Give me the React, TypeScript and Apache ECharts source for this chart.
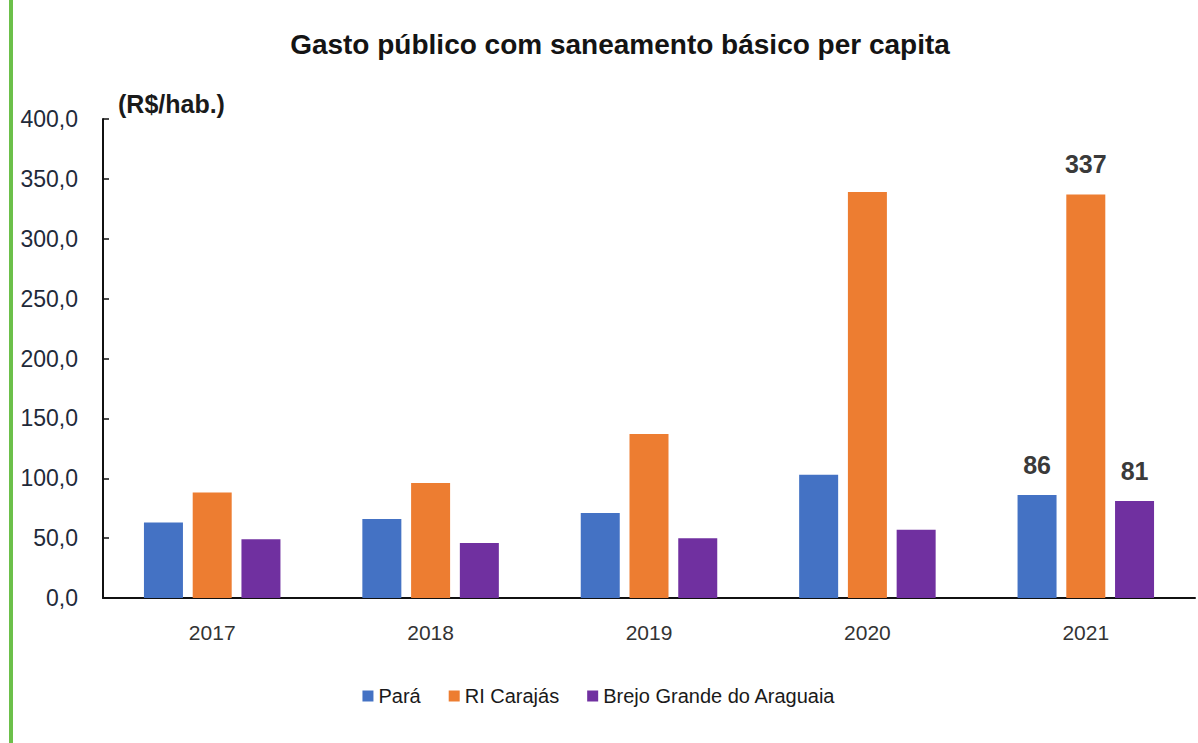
import React, { useEffect, useRef } from "react";
import * as echarts from "echarts";

const titleText = "Gasto público com saneamento básico per capita";
const unitText = "(R$/hab.)";
const years = ["2017", "2018", "2019", "2020", "2021"];
const seriesNames = ["Pará", "RI Carajás", "Brejo Grande do Araguaia"];
const para = [63, 66, 71, 103, 86];
const riCarajas = [88, 96, 137, 339, 337];
const brejoGrande = [49, 46, 50, 57, 81];
const labeledIndex = 4;
const colors = ["#4472C4", "#ED7D31", "#7030A0"];

const FONT = "'Liberation Sans', Arial, sans-serif";

export default function App() {
  const ref = useRef<HTMLDivElement>(null);
  useEffect(() => {
    if (!ref.current) return;
    const chart = echarts.init(ref.current, null, { renderer: "svg" });
    const allData = [para, riCarajas, brejoGrande];
    const series = allData.map((arr, si) => ({
      name: seriesNames[si],
      type: "bar",
      barWidth: 39,
      barGap: "25%",
      itemStyle: { color: colors[si] },
      label: {
        show: false,
        position: "top",
        distance: 18,
        fontFamily: FONT,
        fontSize: 25,
        fontWeight: "bold",
        color: "#3a3a3a",
        formatter: (p: any) => String(Math.round(p.value)),
      },
      data: arr.map((v, i) => (i === labeledIndex ? { value: v, label: { show: true } } : v)),
    }));
    chart.setOption({
      animation: false,
      backgroundColor: "#ffffff",
      textStyle: { fontFamily: FONT },
      title: {
        text: titleText,
        left: 615,
        textAlign: "center",
        top: 25,
        textStyle: { fontFamily: FONT, fontSize: 28, fontWeight: "bold", color: "#141414" },
      },
      legend: {
        data: seriesNames,
        bottom: 32,
        left: "center",
        icon: "rect",
        itemWidth: 11,
        itemHeight: 11,
        itemGap: 28,
        textStyle: { fontFamily: FONT, fontSize: 20, color: "#1a1a1a" },
      },
      grid: { left: 103, right: 3, top: 119, bottom: 145 },
      xAxis: {
        type: "category",
        data: years,
        axisLine: { lineStyle: { color: "#111", width: 2 } },
        axisTick: { inside: true, length: 6, lineStyle: { color: "#111", width: 2 } },
        axisLabel: { fontFamily: FONT, fontSize: 21, color: "#333", margin: 24 },
      },
      yAxis: {
        type: "value",
        min: 0,
        max: 400,
        interval: 50,
        splitLine: { show: false },
        axisLine: { show: true, lineStyle: { color: "#111", width: 2 } },
        axisTick: { show: true, inside: true, length: 6, lineStyle: { color: "#111", width: 1.5 } },
        axisLabel: {
          fontFamily: FONT,
          fontSize: 23,
          color: "#1f2a3a",
          margin: 25,
          formatter: (v: number) => v.toFixed(1).replace(".", ","),
        },
      },
      graphic: [
        { type: "rect", left: 9, top: 0, shape: { width: 4, height: 743 }, style: { fill: "#6cc04a" } },
        {
          type: "text",
          left: 118,
          top: 91,
          style: { text: unitText, font: `bold 25px ${FONT}`, fill: "#1a1a1a" },
        },
      ],
      series,
    });
    return () => chart.dispose();
  }, []);
  return (
    <div
      ref={ref}
      style={{ position: "fixed", left: 0, top: 0, width: 1198, height: 743 }}
    />
  );
}
